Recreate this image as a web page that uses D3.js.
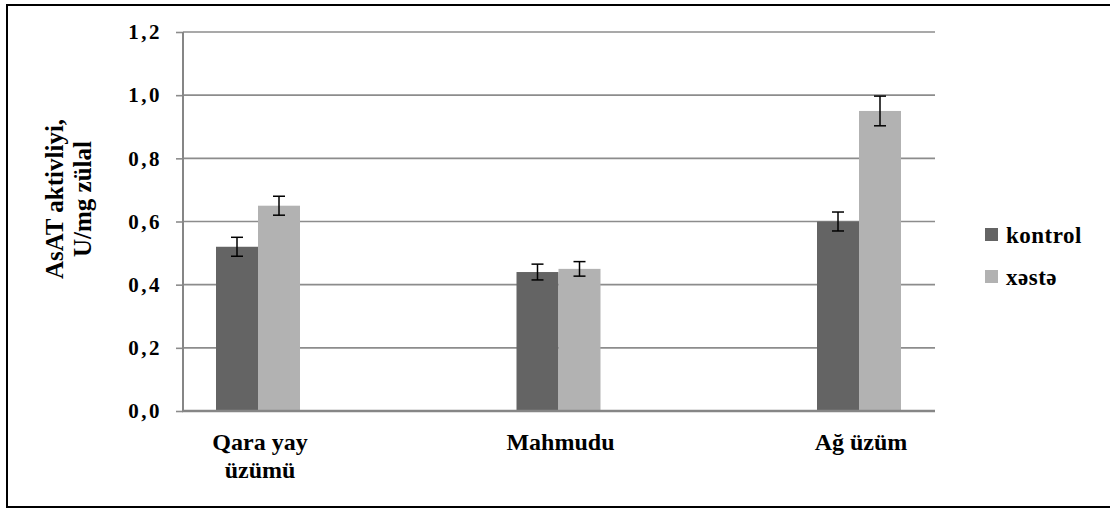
<!DOCTYPE html>
<html>
<head>
<meta charset="UTF-8" />
<title>AsAT aktivliyi</title>
<script src="https://d3js.org/d3.v7.min.js"></script>
<style>
  body { margin: 0; background: #fff; }
  svg text { font-family: "Liberation Serif", "Times New Roman", serif !important; font-weight: bold; fill: #000; }
</style>
</head>
<body>
<div id="main"></div>
<script type="text/javascript">
  var categories = ['Qara yay\nüzümü', 'Mahmudu', 'Ağ üzüm'];
  var seriesNames = ['kontrol', 'xəstə'];
  var kontrol = [0.52, 0.44, 0.60];
  var xeste = [0.65, 0.45, 0.95];
  var kontrolErr = [0.03, 0.025, 0.03];
  var xesteErr = [0.03, 0.023, 0.047];
  var yTicks = [0, 0.2, 0.4, 0.6, 0.8, 1.0, 1.2];
  var colors = ['#646464', '#b2b2b2'];

  var width = 1110;
  var height = 509;

  var svg = d3.select('#main')
              .append('svg')
              .attr('width', width)
              .attr('height', height);

  // outer frame (open on the right)
  svg.append('rect')
     .attr('x', 7).attr('y', 5)
     .attr('width', 1110).attr('height', 502)
     .attr('fill', 'none')
     .attr('stroke', '#000')
     .attr('stroke-width', 2);

  var plotLeft = 183, plotRight = 935;
  var y = d3.scaleLinear().domain([0, 1.2]).range([411, 32]);
  var x = d3.scalePoint().domain(categories).range([258, 859]);
  var barW = 42;

  // gridlines
  svg.append('g')
     .selectAll('line')
     .data(yTicks.slice(1))
     .enter()
     .append('line')
     .attr('x1', plotLeft).attr('x2', plotRight)
     .attr('y1', function(d){ return y(d); })
     .attr('y2', function(d){ return y(d); })
     .attr('stroke', '#8c8c8c')
     .attr('stroke-width', 1.6);

  // y axis
  var yAxis = d3.axisLeft(y)
                .tickValues(yTicks)
                .tickSize(7)
                .tickPadding(14)
                .tickFormat(function(d){ return d3.format('.1f')(d).replace('.', ','); });
  var gy = svg.append('g')
              .attr('transform', 'translate(' + plotLeft + ',0)')
              .call(yAxis);
  gy.attr('font-family', null);
  gy.select('.domain').remove();
  gy.selectAll('.tick line').attr('stroke', '#8c8c8c').attr('stroke-width', 1.6);
  gy.selectAll('.tick text')
    .attr('font-size', 21)
    .attr('letter-spacing', '2.5px')
    .attr('dy', '0.32em');

  svg.append('line')
     .attr('x1', plotLeft).attr('x2', plotLeft)
     .attr('y1', y(1.2)).attr('y2', y(0))
     .attr('stroke', '#868686').attr('stroke-width', 2);

  // bars
  var series = [kontrol, xeste];
  var errs = [kontrolErr, xesteErr];
  series.forEach(function(vals, s){
    var g = svg.append('g');
    g.selectAll('rect')
     .data(vals)
     .enter()
     .append('rect')
     .attr('x', function(d, i){ return x(categories[i]) - barW + s * barW; })
     .attr('y', function(d){ return y(d); })
     .attr('width', barW)
     .attr('height', function(d){ return y(0) - y(d); })
     .attr('fill', colors[s]);
  });

  // x axis line
  svg.append('line')
     .attr('x1', plotLeft - 1).attr('x2', plotRight)
     .attr('y1', y(0)).attr('y2', y(0))
     .attr('stroke', '#868686').attr('stroke-width', 2.5);

  // error bars
  series.forEach(function(vals, s){
    var g = svg.append('g');
    vals.forEach(function(v, i){
      var cx = x(categories[i]) - barW / 2 + s * barW;
      var e = errs[s][i];
      g.append('line').attr('x1', cx).attr('x2', cx)
       .attr('y1', y(v + e)).attr('y2', y(v - e))
       .attr('stroke', '#000').attr('stroke-width', 1.5);
      [v + e, v - e].forEach(function(w){
        g.append('line').attr('x1', cx - 6).attr('x2', cx + 6)
         .attr('y1', y(w)).attr('y2', y(w))
         .attr('stroke', '#000').attr('stroke-width', 1.5);
      });
    });
  });

  // category labels
  categories.forEach(function(c){
    var t = svg.append('text')
               .attr('text-anchor', 'middle')
               .attr('font-size', 24);
    c.split('\n').forEach(function(line, k){
      t.append('tspan')
       .attr('x', x(c) + 2)
       .attr('y', 450 + k * 28)
       .text(line);
    });
  });

  // y axis title
  var yt = svg.append('text')
              .attr('transform', 'translate(0,199) rotate(-90)')
              .attr('text-anchor', 'middle')
              .attr('font-size', 25);
  yt.append('tspan').attr('x', 0).attr('y', 63).text('AsAT aktivliyi,');
  yt.append('tspan').attr('x', 0).attr('y', 91).text('U/mg zülal');

  // legend
  var legend = svg.append('g')
                  .selectAll('g')
                  .data(seriesNames)
                  .enter()
                  .append('g')
                  .attr('transform', function(d, i){ return 'translate(985,' + (228 + i * 42) + ')'; });
  legend.append('rect')
        .attr('width', 13).attr('height', 13)
        .attr('fill', function(d, i){ return colors[i]; });
  legend.append('text')
        .attr('x', 21).attr('y', 15)
        .attr('font-size', 23)
        .attr('letter-spacing', '0.5px')
        .text(function(d){ return d; });
</script>
</body>
</html>
